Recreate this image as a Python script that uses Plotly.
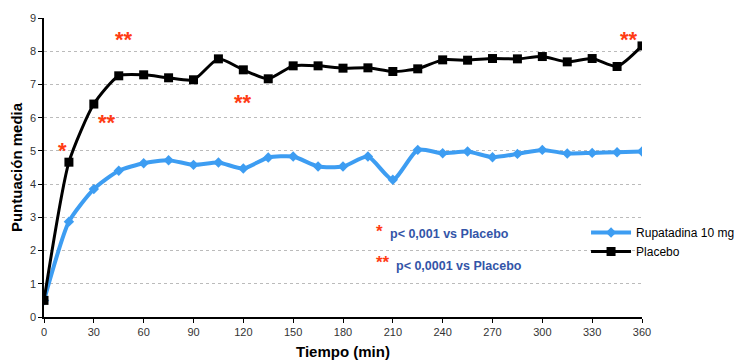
import plotly.graph_objects as go

time_min = [0, 15, 30, 45, 60, 75, 90, 105, 120, 135, 150, 165, 180, 195, 210, 225, 240, 255, 270, 285, 300, 315, 330, 345, 360]
rupatadina = [0.5, 2.87, 3.85, 4.4, 4.63, 4.72, 4.58, 4.65, 4.47, 4.8, 4.83, 4.53, 4.53, 4.83, 4.13, 5.03, 4.93, 4.98, 4.81, 4.91, 5.03, 4.92, 4.94, 4.96, 4.98]
placebo = [0.5, 4.66, 6.41, 7.26, 7.29, 7.2, 7.14, 7.77, 7.44, 7.17, 7.56, 7.56, 7.49, 7.5, 7.39, 7.47, 7.74, 7.73, 7.78, 7.77, 7.84, 7.68, 7.78, 7.54, 8.16]

sig_x = [11, 48, 38, 120, 352]
sig_y = [5.0, 8.35, 5.85, 6.45, 8.35]
sig_text = ["*", "**", "**", "**", "**"]

x_ticks = list(range(0, 361, 30))
y_ticks = list(range(0, 10))

FONT = "Liberation Sans, Arial, sans-serif"
RED = "#ff3b14"
BLUE_TXT = "#3355a8"

# page body has an 8px margin; figure is offset by it
OFF = 8
W, H = 745 - OFF, 363 - OFF
L, R, T, B = 43.5, 642.0, 18.0, 317.0

def px(xp, yp):
    return (xp - L) / (R - L), (B - yp) / (B - T)

fig = go.Figure()
fig.add_trace(go.Scatter(
    x=time_min, y=rupatadina, name="Rupatadina 10 mg",
    mode="lines+markers", line=dict(color="#3d9df2", width=4, shape="spline", smoothing=0.6),
    marker=dict(symbol="diamond", size=8, color="#3d9df2"),
))
fig.add_trace(go.Scatter(
    x=time_min, y=placebo, name="Placebo",
    mode="lines+markers", line=dict(color="black", width=3, shape="spline", smoothing=0.6),
    marker=dict(symbol="square", size=9, color="black"),
))

annotations = []
for xv, yv, t in zip(sig_x, sig_y, sig_text):
    annotations.append(dict(x=xv, y=yv, xref="x", yref="y", text="<b>" + t + "</b>", showarrow=False,
                            font=dict(family=FONT, size=22, color=RED)))

foot = [
    (379, 231, "<b>*</b>", 17, RED, "center"),
    (388, 234, "<b>p< 0,001 vs Placebo</b>", 12.5, BLUE_TXT, "left"),
    (383, 262, "<b>**</b>", 17, RED, "center"),
    (394, 266, "<b>p< 0,0001 vs Placebo</b>", 12.5, BLUE_TXT, "left"),
]
for xp, yp, t, s, c, xa in foot:
    ax, ay = px(xp, yp)
    annotations.append(dict(x=ax, y=ay, xref="paper", yref="paper", text=t, showarrow=False,
                            font=dict(family=FONT, size=s, color=c), xanchor=xa, yanchor="middle"))

lx, ly = px(586, 218)
fig.update_layout(
    width=W, height=H,
    margin=dict(l=L - OFF, r=745 - R, t=T - OFF, b=363 - B, autoexpand=False),
    paper_bgcolor="white", plot_bgcolor="white",
    font=dict(family=FONT, size=11, color="#222"),
    showlegend=True,
    legend=dict(x=lx, y=ly, xanchor="left", yanchor="top",
                bgcolor="rgba(0,0,0,0)", font=dict(family=FONT, size=12, color="black"),
                tracegroupgap=0, itemwidth=40),
    annotations=annotations,
    xaxis=dict(range=[0, 360], tickvals=x_ticks, showgrid=False, zeroline=False, automargin=False,
               showline=True, linecolor="black", linewidth=1.5, ticks="outside", ticklen=4,
               tickcolor="black", tickfont=dict(size=11, color="#333"),
               title=dict(text="<b>Tiempo (min)</b>", font=dict(size=15, color="black"), standoff=10)),
    yaxis=dict(range=[0, 9], tickvals=y_ticks, showgrid=True, gridcolor="#bbbbbb", griddash="dot",
               gridwidth=1, zeroline=False, showline=True, linecolor="black", linewidth=1.5, automargin=False,
               ticks="outside", ticklen=4, tickcolor="black", tickfont=dict(size=11, color="#333"),
               title=dict(text="<b>Puntuación media</b>", font=dict(size=15, color="black"), standoff=8)),
)

fig.write_html("out.html")
